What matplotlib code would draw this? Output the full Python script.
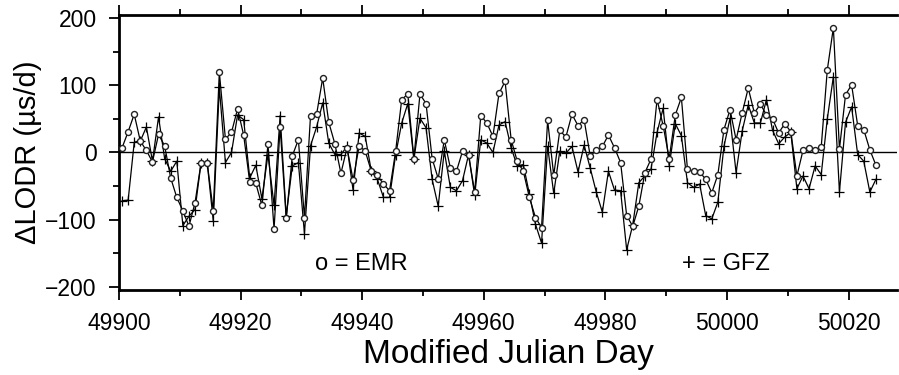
import matplotlib
matplotlib.use("Agg")
import matplotlib.pyplot as plt
import numpy as np
from matplotlib.ticker import MultipleLocator

plt.rcParams['font.family'] = ['Liberation Sans', 'DejaVu Sans']

mjd_start = 49900.5
emr = [7, 31, 57, 17, 3, -14, 27, 10, -38, -67,
       -87, -110, -75, -15, -15, -87, 120, 20, 30, 65,
       26, -44, -46, -79, 12, -114, 38, -98, -5, 19,
       -97, 55, 57, 111, 45, 13, -31, 7, -41, 10,
       2, -28, -34, -47, -57, 2, 79, 87, -9, 87,
       73, -9, -39, 19, -23, -28, 2, -4, -59, 55,
       44, 24, 88, 106, 19, -13, -28, -67, -97, -112,
       48, -34, 33, 23, 57, 40, 49, -5, 3, 9,
       26, 7, -15, -94, -110, -80, -30, -10, 79, 40,
       -9, 56, 82, -25, -28, -29, -40, -60, -33, 34,
       64, 19, 59, 96, 59, 72, 56, 50, 29, 43,
       31, -35, 3, 6, 4, 8, 123, 186, 5, 86,
       101, 40, 34, 4, -19]
gfz = [-72, -71, 15, 17, 38, -13, 53, -9, -28, -13,
       -109, -95, -85, -15, -15, -102, 97, -15, 0, 56,
       49, -38, -19, -69, -3, -79, 55, -95, -20, -15,
       -121, 10, 38, 74, 14, -3, -3, 9, -56, 29,
       24, -28, -40, -67, -67, -3, 44, 73, -10, 51,
       37, -40, -80, 2, -52, -57, -42, -3, -64, 19,
       14, 0, 41, 46, 7, -20, -18, -62, -107, -135,
       9, -61, 2, -1, 9, -29, 11, -23, -59, -89,
       -28, -56, -57, -145, -108, -45, -35, -25, 30, 66,
       -20, 43, 25, -45, -52, -47, -94, -99, -74, 9,
       51, -30, 32, 71, 44, 44, 79, 33, 13, 23,
       30, -54, -35, -54, -20, -33, 50, 113, -59, 45,
       68, -3, -13, -59, -40]
mjd = mjd_start + np.arange(len(emr))

fig = plt.figure(figsize=(8.99, 3.75), dpi=100)
ax = fig.add_axes([0.1324, 0.2267, 0.8656, 0.7333])

ax.axhline(0, color='black', lw=1.0, zorder=1)
ax.plot(mjd, gfz, color='black', lw=0.9, marker='+', ms=7, mew=0.9, zorder=2)
ax.plot(mjd, emr, color='black', lw=0.9, marker='o', ms=4.3, mew=1.0,
        mfc='white', mec='#222222', zorder=3)

ax.set_xlim(49900, 50028)
ax.set_ylim(-205, 205)
ax.xaxis.set_major_locator(MultipleLocator(20))
ax.xaxis.set_minor_locator(MultipleLocator(10))
ax.yaxis.set_major_locator(MultipleLocator(100))
ax.yaxis.set_minor_locator(MultipleLocator(50))
ax.tick_params(axis='both', which='both', direction='out', top=True,
               right=False, labelsize=16.5, width=1.3)
ax.tick_params(axis='both', which='major', length=7)
ax.tick_params(axis='both', which='minor', length=4)
ax.tick_params(axis='x', which='major', pad=9)
ax.tick_params(axis='y', which='major', pad=9)
ax.spines['right'].set_visible(False)
for s in ['top', 'left', 'bottom']:
    ax.spines[s].set_linewidth(2.0)

ax.set_xlabel('Modified Julian Day', fontsize=24, labelpad=3)
ax.set_ylabel('ΔLODR (µs/d)', fontsize=21, labelpad=2)

ax.text(49939.8, -166, 'o = EMR', fontsize=17, ha='center', va='center')
ax.text(49999.9, -166, '+ = GFZ', fontsize=17, ha='center', va='center')

fig.savefig('out.png', dpi=100)
